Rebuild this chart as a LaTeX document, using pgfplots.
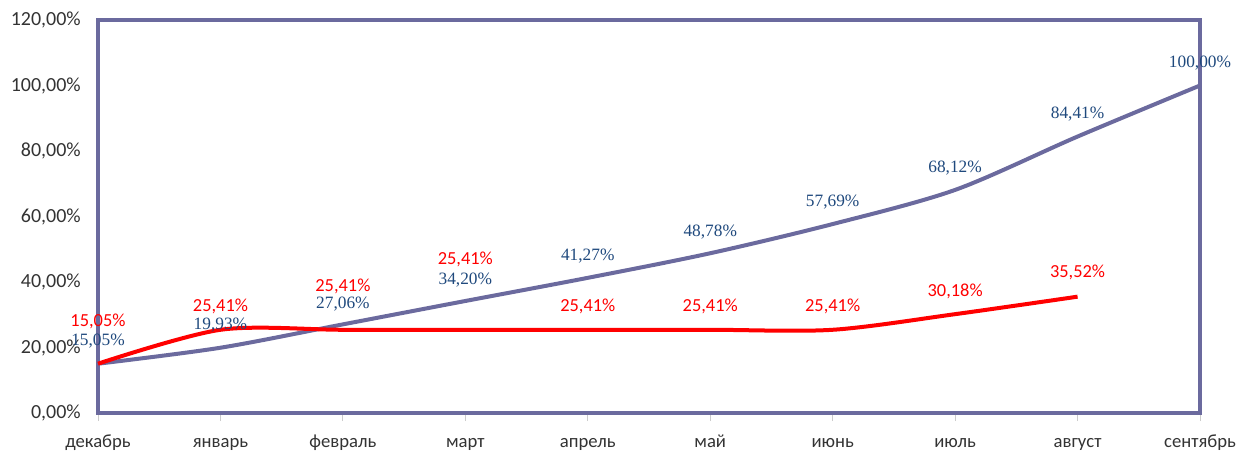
\documentclass[border=0pt]{standalone}
\usepackage{pgfplots}
\pgfplotsset{compat=1.18}
\usetikzlibrary{calc}
\usepackage{fontspec}
\setmainfont{Carlito}
\newfontfamily\serifl{Liberation Serif}
\definecolor{frame}{RGB}{107,106,158}
\definecolor{lbl}{RGB}{31,73,125}
\begin{document}
\begin{tikzpicture}
\begin{axis}[
  scale only axis, width=826.5pt, height=294.75pt,
  xmin=0, xmax=9, ymin=0, ymax=120,
  xtick={0,...,9},
  xticklabels={декабрь,январь,февраль,март,апрель,май,июнь,июль,август,сентябрь},
  ytick={0,20,...,120},
  yticklabels={{0,00\%},{20,00\%},{40,00\%},{60,00\%},{80,00\%},{100,00\%},{120,00\%}},
  axis line style={draw=frame, line width=3pt},
  tick pos=left, tick align=outside,
  major tick length=6pt,
  xtick style={draw=black!20, line width=0.7pt},
  ytick style={draw=none},
  ticklabel style={text=black!80},
  xticklabel style={font=\fontsize{14}{16}\selectfont, anchor=base, inner sep=0pt, yshift=-19.5pt},
  yticklabel style={font=\fontsize{15}{17}\selectfont, anchor=east, inner sep=0pt, xshift=-6.75pt},
  clip=false,
]
\coordinate (sw) at (rel axis cs:0,0);
\coordinate (ne) at (rel axis cs:1,1);
\addplot[frame, line width=3pt, smooth, no markers,
  point meta=y,
  visualization depends on={value \thisrow{dy}\as\dy},
  nodes near coords={\pgfmathprintnumber[fixed,fixed zerofill,precision=2,use comma,assume math mode=true]{\pgfplotspointmeta}\%},
  every node near coord/.append style={anchor=center, yshift=\dy pt, font=\serifl\fontsize{13}{15}\selectfont, text=lbl, inner sep=0pt}]
  table[x=x,y=y]{
x y dy
0 15.05 17
1 19.93 17
2 27.06 15
3 34.20 16
4 41.27 16.5
5 48.78 16
6 57.69 16.5
7 68.12 16.5
8 84.41 16.5
9 100.00 17
};
\addplot[red, line width=3pt, smooth, no markers,
  point meta=y,
  visualization depends on={value \thisrow{dy}\as\dy},
  nodes near coords={\pgfmathprintnumber[fixed,fixed zerofill,precision=2,use comma,assume math mode=true]{\pgfplotspointmeta}\%},
  every node near coord/.append style={anchor=center, yshift=\dy pt, font=\fontsize{13.8}{15}\selectfont, text=red, inner sep=0pt}]
  table[x=x,y=y]{
x y dy
0 15.05 31.5
1 25.41 17.25
2 25.41 32.25
3 25.41 52.5
4 25.41 17.25
5 25.41 17.25
6 25.41 17.25
7 30.18 17.25
8 35.52 18
};
\end{axis}
\pgfresetboundingbox
\path ($(sw)+(-73.5pt,-29.25pt)$) rectangle ($(ne)+(30.75pt,15pt)$);
\end{tikzpicture}
\end{document}
